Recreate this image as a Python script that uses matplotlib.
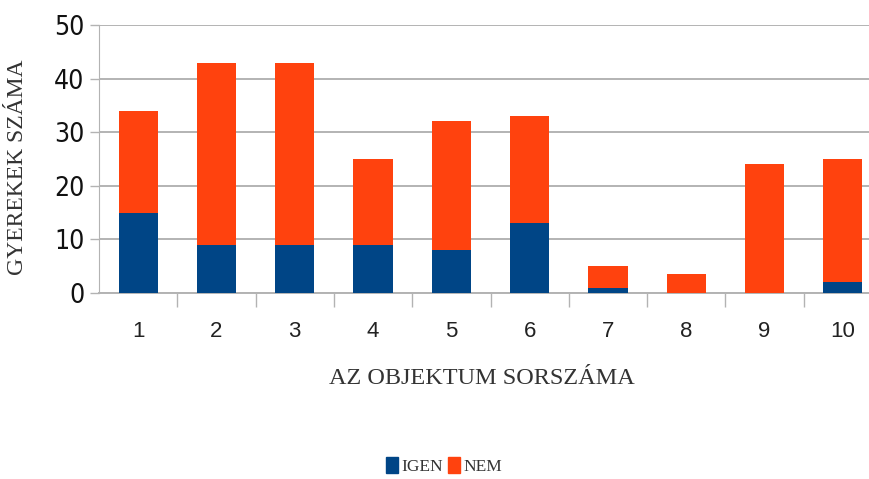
import matplotlib
matplotlib.use("Agg")
import matplotlib.pyplot as plt
from matplotlib.patches import Patch

categories = ["1", "2", "3", "4", "5", "6", "7", "8", "9", "10"]
igen = [15, 9, 9, 9, 8, 13, 1, 0, 0, 2]
nem = [19, 34, 34, 16, 24, 20, 4, 3.5, 24, 23]
y_ticks = [0, 10, 20, 30, 40, 50]

W, H = 869, 479
fig = plt.figure(figsize=(W / 100, H / 100), dpi=100)
fig.patch.set_facecolor("white")
ax = fig.add_axes([99 / W, 1 - 293 / H, (882 - 99) / W, (293 - 25) / H])

x = list(range(len(categories)))
blue = "#004586"
orange = "#ff420e"
grid_c = "#b3b3b3"

ax.bar(x, igen, width=0.5, color=blue, zorder=3)
ax.bar(x, nem, bottom=igen, width=0.5, color=orange, zorder=3)

ax.set_xlim(-0.5, len(categories) - 0.5)
ax.set_ylim(0, 50)
ax.set_yticks(y_ticks)
ax.set_yticklabels([str(t) for t in y_ticks], family="DejaVu Sans", stretch="condensed",
                   fontsize=19, color="#111111")
ax.yaxis.grid(True, color=grid_c, linewidth=1.4, zorder=0)
ax.tick_params(axis="y", length=6.5, width=1.0, color=grid_c, pad=4)

ax.set_xticks(x)
ax.set_xticklabels(categories, family="Liberation Sans", fontsize=16, color="#222222")
ax.tick_params(axis="x", which="major", length=0, pad=20)
ax.set_xticks([i + 0.5 for i in x[:-1]], minor=True)
ax.tick_params(axis="x", which="minor", length=10, width=1.0, color=grid_c, direction="out")

for s in ["top", "right"]:
    ax.spines[s].set_visible(False)
ax.spines["left"].set_color(grid_c)
ax.spines["bottom"].set_color(grid_c)
ax.spines["bottom"].set_linewidth(1.4)

fig.text(482 / W, 1 - 378 / H, "AZ OBJEKTUM SORSZÁMA", family="Liberation Serif",
         fontsize=17.5, ha="center", va="center", color="#333333")
fig.text(18 / W, 1 - 167 / H, "GYEREKEK SZÁMA", family="Liberation Serif",
         fontsize=17, ha="center", va="center", rotation=90, color="#333333")

handles = [Patch(color=blue, label="IGEN"), Patch(color=orange, label="NEM")]
fig.legend(handles=handles, loc="center", bbox_to_anchor=(444 / W, 1 - 466 / H), ncol=2,
           frameon=False, prop={"family": "Liberation Serif", "size": 12.5},
           handlelength=0.7, handleheight=1.0, handletextpad=0.2, columnspacing=0.3,
           labelcolor="#333333")

fig.savefig("out.png", dpi=100, facecolor="white")
